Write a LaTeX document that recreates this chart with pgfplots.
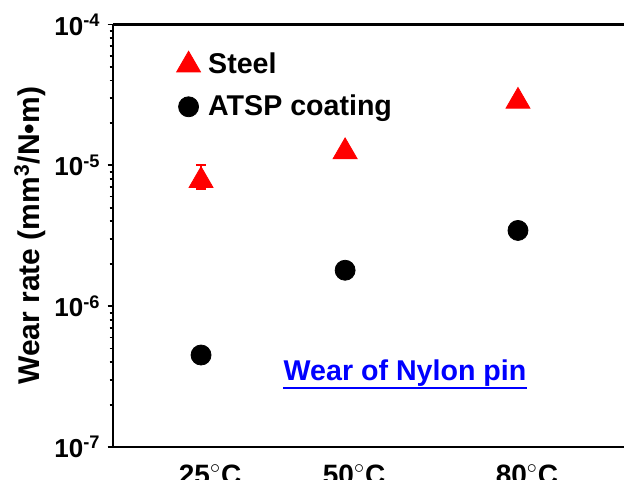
\documentclass[border=0pt]{standalone}
\usepackage{pgfplots}
\pgfplotsset{compat=1.18}
\usepackage{pgfplotstable}
\usepackage{fontspec}
\setmainfont{Liberation Sans}

% Wear rate of the nylon pin against each counterface
\pgfplotstableread{
T    y       ep      em
25   7.8e-6  2.3e-6  1.0e-6
50   1.25e-5 0       0
80   2.85e-5 0       0
}\steeldata
\pgfplotstableread{
T    y
25   4.5e-7
50   1.8e-6
80   3.45e-6
}\atspdata

\definecolor{steelred}{RGB}{255,0,0}
\definecolor{titleblue}{RGB}{0,0,255}

\begin{document}
\begin{tikzpicture}
\begin{axis}[
  scale only axis,
  width=255.5pt, height=211.25pt,
  ymode=log, ymin=1e-7, ymax=1e-4,
  xmin=9.72, xmax=98.4,
  axis y line*=left, axis x line*=box,
  axis line style={line width=1.3pt, black},
  ytick={1e-7,1e-6,1e-5,1e-4},
  yticklabels={10\textsuperscript{-7},10\textsuperscript{-6},10\textsuperscript{-5},10\textsuperscript{-4}},
  xtick={25,50,80},
  xticklabels={25$^{\circ}$C,50$^{\circ}$C,80$^{\circ}$C},
  tick align=outside,
  major tick length=2.7pt, minor tick length=1.7pt,
  every tick/.style={line width=0.9pt, black},
  x tick style={draw=none},
  xticklabel style={xshift=4.5pt, yshift=-2.5pt, font=\bfseries\fontsize{14}{16}\selectfont},
  yticklabel style={font=\bfseries\fontsize{13}{15}\selectfont},
  ylabel={Wear rate (mm\textsuperscript{3}/N•m)},
  every axis y label/.style={at={(rel axis cs:0,0.5)}, anchor=center, rotate=90, yshift=41.5pt},
  label style={font=\bfseries\fontsize{15}{17}\selectfont},
  legend style={draw=none, fill=none, at={(0.112,0.952)}, anchor=north west,
    font=\bfseries\fontsize{14.3}{16}\selectfont, row sep=5pt},
  legend cell align=left,
  legend image code/.code={\draw plot coordinates {(0.25cm,0cm)};\path (0.25cm+7.6pt,0cm);},
  clip=false,
]
\addplot[only marks, mark=triangle*, mark size=6.9pt, color=steelred,
  error bars/.cd, y dir=both, y explicit,
  error bar style={line width=1pt, steelred},
  error mark options={rotate=90, mark size=2.5pt, line width=1pt, steelred}]
  table[x=T, y=y, y error plus=ep, y error minus=em]{\steeldata};
\addlegendentry{Steel}
\addplot[only marks, mark=*, mark size=5pt, color=black]
  table[x=T, y=y]{\atspdata};
\addlegendentry{ATSP coating}
\node[text=titleblue, anchor=base, inner sep=0pt, font=\bfseries\fontsize{14.3}{16}\selectfont]
  (title) at (axis cs:60.4,2.95e-7) {Wear of Nylon pin};
\draw[titleblue, line width=1.1pt] ([yshift=-3.7pt]title.base west) -- ([yshift=-3.7pt]title.base east);
\end{axis}
\pgfresetboundingbox
\path[use as bounding box] ([shift={(-56.5pt,-16pt)}]current axis.south west)
  rectangle ([shift={(255.5pt,223.5pt)}]current axis.south west);
\end{tikzpicture}
\end{document}
